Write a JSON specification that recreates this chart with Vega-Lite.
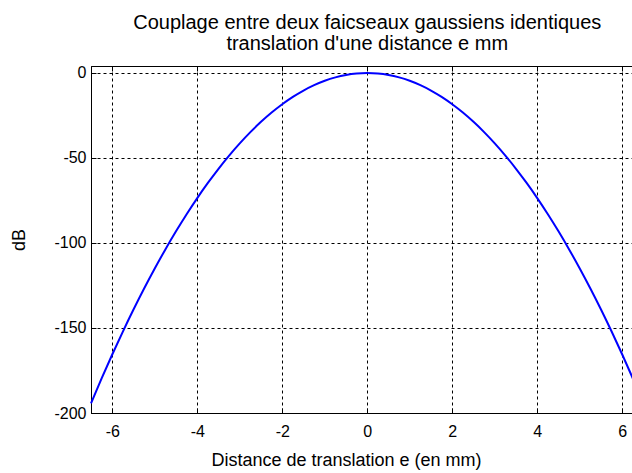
{
  "$schema": "https://vega.github.io/schema/vega-lite/v6.json",
  "autosize": "none",
  "padding": {"left": 91, "top": 66, "right": 0, "bottom": 60},
  "width": 552.5,
  "height": 347,
  "background": "white",
  "config": {
    "view": {"stroke": "black", "strokeWidth": 1},
    "font": "Liberation Sans",
    "axis": {
      "domainColor": "black",
      "tickColor": "black",
      "labelColor": "black",
      "titleColor": "black",
      "labelFont": "Liberation Sans",
      "titleFont": "Liberation Sans",
      "labelFontSize": 16,
      "titleFontSize": 18,
      "titleFontWeight": "normal",
      "gridColor": "black",
      "gridOpacity": 1,
      "gridDash": [3, 3],
      "gridWidth": 1,
      "tickSize": -5,
      "labelExpr": "'' + datum.value"
    }
  },
  "title": {
    "text": ["Couplage entre deux faicseaux gaussiens identiques", "translation d'une distance e mm"],
    "font": "Liberation Sans",
    "fontSize": 20,
    "fontWeight": "normal",
    "color": "black",
    "anchor": "middle",
    "lineHeight": 21,
    "offset": 11
  },
  "data": {
    "values": [
      {"e": -6.5, "dB": -194.35}, {"e": -6.25, "dB": -179.69}, {"e": -6.0, "dB": -165.6},
      {"e": -5.75, "dB": -152.09}, {"e": -5.5, "dB": -139.15}, {"e": -5.25, "dB": -126.79},
      {"e": -5.0, "dB": -115.0}, {"e": -4.75, "dB": -103.79}, {"e": -4.5, "dB": -93.15},
      {"e": -4.25, "dB": -83.09}, {"e": -4.0, "dB": -73.6}, {"e": -3.75, "dB": -64.69},
      {"e": -3.5, "dB": -56.35}, {"e": -3.25, "dB": -48.59}, {"e": -3.0, "dB": -41.4},
      {"e": -2.75, "dB": -34.79}, {"e": -2.5, "dB": -28.75}, {"e": -2.25, "dB": -23.29},
      {"e": -2.0, "dB": -18.4}, {"e": -1.75, "dB": -14.09}, {"e": -1.5, "dB": -10.35},
      {"e": -1.25, "dB": -7.19}, {"e": -1.0, "dB": -4.6}, {"e": -0.75, "dB": -2.59},
      {"e": -0.5, "dB": -1.15}, {"e": -0.25, "dB": -0.29}, {"e": 0.0, "dB": 0.0},
      {"e": 0.25, "dB": -0.29}, {"e": 0.5, "dB": -1.15}, {"e": 0.75, "dB": -2.59},
      {"e": 1.0, "dB": -4.6}, {"e": 1.25, "dB": -7.19}, {"e": 1.5, "dB": -10.35},
      {"e": 1.75, "dB": -14.09}, {"e": 2.0, "dB": -18.4}, {"e": 2.25, "dB": -23.29},
      {"e": 2.5, "dB": -28.75}, {"e": 2.75, "dB": -34.79}, {"e": 3.0, "dB": -41.4},
      {"e": 3.25, "dB": -48.59}, {"e": 3.5, "dB": -56.35}, {"e": 3.75, "dB": -64.69},
      {"e": 4.0, "dB": -73.6}, {"e": 4.25, "dB": -83.09}, {"e": 4.5, "dB": -93.15},
      {"e": 4.75, "dB": -103.79}, {"e": 5.0, "dB": -115.0}, {"e": 5.25, "dB": -126.79},
      {"e": 5.5, "dB": -139.15}, {"e": 5.75, "dB": -152.09}, {"e": 6.0, "dB": -165.6},
      {"e": 6.25, "dB": -179.69}, {"e": 6.5, "dB": -194.35}
    ]
  },
  "layer": [
    {
      "mark": {"type": "line", "color": "#0000ff", "strokeWidth": 2, "interpolate": "monotone"},
      "encoding": {
        "x": {
          "field": "e", "type": "quantitative",
          "scale": {"domain": [-6.5, 6.5], "nice": false, "zero": false},
          "axis": {"values": [-6, -4, -2, 0, 2, 4, 6], "title": "Distance de translation e (en mm)", "labelPadding": 15, "titlePadding": 12, "titleX": 255, "grid": true}
        },
        "y": {
          "field": "dB", "type": "quantitative",
          "scale": {"domain": [-200, 4.1], "nice": false, "zero": false},
          "axis": {"values": [-200, -150, -100, -50, 0], "title": "dB", "labelPadding": 10, "titlePadding": 25, "grid": true}
        }
      }
    },
    {
      "mark": {"type": "line", "opacity": 0},
      "encoding": {
        "x": {
          "field": "e", "type": "quantitative",
          "axis": {"orient": "top", "values": [-6, -4, -2, 0, 2, 4, 6], "labels": false, "title": null, "grid": false}
        },
        "y": {
          "field": "dB", "type": "quantitative",
          "axis": {"orient": "right", "values": [-200, -150, -100, -50, 0], "labels": false, "title": null, "grid": false}
        }
      }
    }
  ],
  "resolve": {"axis": {"x": "independent", "y": "independent"}}
}
